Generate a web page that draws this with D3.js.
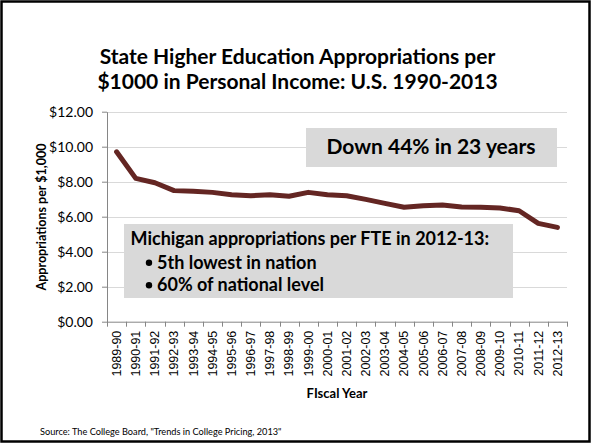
<!DOCTYPE html>
<html>
<head>
<meta charset="utf-8">
<script src="https://cdn.jsdelivr.net/npm/d3@7/dist/d3.min.js"></script>
<style>
  html, body { margin: 0; padding: 0; background: #fff; }
  svg { display: block; }
</style>
</head>
<body>
<svg id="chart" width="592" height="444"></svg>
<script>
// Fiscal years on the category axis
const years = ["1989-90","1990-91","1991-92","1992-93","1993-94","1994-95","1995-96","1996-97",
  "1997-98","1998-99","1999-00","2000-01","2001-02","2002-03","2003-04","2004-05","2005-06",
  "2006-07","2007-08","2008-09","2009-10","2010-11","2011-12","2012-13"];
// Appropriations per $1,000 in personal income (dollars)
const appropriations = [9.71, 8.19, 7.94, 7.49, 7.45, 7.39, 7.26, 7.20, 7.26, 7.17, 7.39, 7.26,
  7.20, 6.99, 6.76, 6.54, 6.63, 6.67, 6.55, 6.54, 6.50, 6.34, 5.62, 5.39];
// Y axis tick values
const yTicks = [0, 2, 4, 6, 8, 10, 12];

const titleLines = ["State Higher Education Appropriations per", "$1000 in Personal Income: U.S. 1990-2013"];
const noteLines = ["Michigan appropriations per FTE in 2012-13:", "5th lowest in nation", "60% of national level"];

const svg = d3.select("#chart");
const sans = "Lato, 'Open Sans', sans-serif";

// slide frame
svg.append("rect").attr("x", 1.5).attr("y", 1.5).attr("width", 588).attr("height", 440)
  .attr("fill", "#fff").attr("stroke", "#000").attr("stroke-width", 2.5);

const plot = { left: 107, right: 567, top: 111.7, bottom: 321.7 };

const x = d3.scaleBand().domain(years).range([plot.left, plot.right]).padding(0);
const y = d3.scaleLinear().domain([0, 12]).range([plot.bottom, plot.top]);
const cx = d => x(d) + x.bandwidth() / 2;

// title
svg.append("g").selectAll("text").data(titleLines).join("text")
  .attr("x", 297.5).attr("y", (d, i) => 63.5 + i * 25)
  .attr("text-anchor", "middle")
  .attr("font-family", sans).attr("font-weight", 700).attr("font-size", 21)
  .attr("fill", "#000").text(d => d);

// horizontal gridlines
svg.append("g").selectAll("line").data(yTicks.filter(v => v > 0)).join("line")
  .attr("x1", plot.left).attr("x2", plot.right)
  .attr("y1", d => Math.round(y(d)) + 0.5).attr("y2", d => Math.round(y(d)) + 0.5)
  .attr("stroke", "#d9d9d9").attr("stroke-width", 1);

// y axis
const yAxis = svg.append("g").attr("transform", `translate(${plot.left},0)`)
  .call(d3.axisLeft(y).tickValues(yTicks).tickFormat(d => "$" + d.toFixed(2))
    .tickSize(5).tickSizeOuter(0).tickPadding(9));
yAxis.select(".domain").attr("stroke", "#868686");
yAxis.selectAll(".tick line").attr("stroke", "#868686");
yAxis.selectAll("text").attr("font-family", sans).attr("font-size", 14).attr("fill", "#000");

// x axis: labels centred on each category, ticks at category boundaries
const xAxis = svg.append("g").attr("transform", `translate(0,${plot.bottom})`)
  .call(d3.axisBottom(x).tickSize(0).tickSizeOuter(0));
xAxis.select(".domain").attr("stroke", "#868686");
xAxis.selectAll("text")
  .attr("font-family", "'Liberation Sans', Arial, sans-serif").attr("font-size", 12.5).attr("fill", "#000")
  .attr("transform", "rotate(-90)").attr("text-anchor", "end")
  .attr("x", -9).attr("y", 0).attr("dy", "0.35em");
svg.append("g").selectAll("line").data(years.map(d => x(d)).concat([plot.right])).join("line")
  .attr("x1", d => Math.round(d) + 0.5).attr("x2", d => Math.round(d) + 0.5)
  .attr("y1", plot.bottom).attr("y2", plot.bottom + 5)
  .attr("stroke", "#868686");

// data line
svg.append("path").datum(appropriations)
  .attr("fill", "none").attr("stroke", "#642623").attr("stroke-width", 5)
  .attr("stroke-linejoin", "round").attr("stroke-linecap", "round")
  .attr("d", d3.line().x((d, i) => cx(years[i])).y(d => y(d)));

// callout: overall decline
svg.append("rect").attr("x", 306).attr("y", 128).attr("width", 251).attr("height", 39)
  .attr("fill", "#d9d9d9");
svg.append("text").attr("x", 431).attr("y", 154).attr("text-anchor", "middle")
  .attr("font-family", sans).attr("font-weight", 700).attr("font-size", 21)
  .attr("fill", "#000").text("Down 44% in 23 years");

// callout: Michigan comparison
svg.append("rect").attr("x", 124).attr("y", 224).attr("width", 389).attr("height", 74)
  .attr("fill", "#d9d9d9");
const note = svg.append("g").attr("font-family", sans).attr("font-weight", 700)
  .attr("font-size", 18).attr("fill", "#000");
note.append("text").attr("x", 130.5).attr("y", 245).text(noteLines[0]);
noteLines.slice(1).forEach((t, i) => {
  const by = 268.5 + i * 22.5;
  note.append("circle").attr("cx", 149).attr("cy", by - 5.8).attr("r", 3.2);
  note.append("text").attr("x", 157).attr("y", by).text(t);
});

// axis titles
svg.append("text").attr("transform", `translate(46,217) rotate(-90)`)
  .attr("text-anchor", "middle").attr("font-family", sans).attr("font-weight", 700)
  .attr("font-size", 12.5).attr("fill", "#000").text("Appropriations per $1,000");
svg.append("text").attr("x", 337).attr("y", 398).attr("text-anchor", "middle")
  .attr("font-family", sans).attr("font-weight", 700).attr("font-size", 13)
  .attr("fill", "#000").text("FIscal Year");

// source note
svg.append("text").attr("x", 40).attr("y", 435).attr("font-family", sans)
  .attr("font-size", 9.2).attr("fill", "#000")
  .text("Source:  The College Board, \"Trends in College Pricing, 2013\"");
</script>
</body>
</html>
